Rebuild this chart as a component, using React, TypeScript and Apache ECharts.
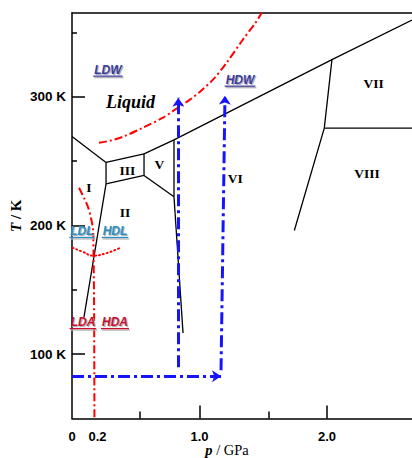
import { useEffect, useRef } from 'react';
import * as echarts from 'echarts';

// ---- axes ----
const X_MIN = 0;
const X_MAX = 2.667;
const Y_MIN = 50;
const Y_MAX = 365;

const xMajorTicks = [1.0, 2.0];
const xMinorTicks = [0.53, 1.54];
const xLabelValues = [0, 0.2, 1.0, 2.0];
const xLabelTexts = ['0', '0.2', '1.0', '2.0'];
const yMajorTicks = [100, 200, 300];
const yMinorTicks = [150, 250, 350];

// ---- phase boundaries [p / GPa, T / K] ----
const ihMelting = [[0, 269.1], [0.267, 248.9]];
const iceIIIRegion = [[0.267, 248.9], [0.565, 255.6], [0.565, 238.8], [0.267, 232.3], [0.267, 248.9]];
const highPressureMelting = [[0.565, 255.6], [0.8, 266.5], [2.039, 328.8], [2.667, 359.5]];
const vViBoundary = [[0.8, 266.5], [0.8, 222.2]];
const vIIBoundary = [[0.565, 238.8], [0.8, 222.2]];
const iiViBoundary = [[0.8, 222.2], [0.871, 116.3]];
const iIIBoundary = [[0.267, 232.3], [0.094, 128.8]];
const viiViiiBoundary = [[2.039, 328.8], [1.979, 275.6], [1.744, 196]];
const viiViiiHorizontal = [[1.979, 275.6], [2.667, 275.6]];

// ---- red metastable lines ----
const ldwHdwLine = [
  [0.212, 264.2], [0.298, 265.8], [0.4, 268.9], [0.557, 275.9], [0.714, 283.7],
  [0.808, 289.9], [0.925, 297.7], [1.004, 303.9], [1.106, 313.2], [1.208, 325.7],
  [1.341, 344.4], [1.435, 356.8], [1.49, 365.4],
];
const ldaHdaLine = [
  [0.055, 229.2], [0.094, 221.4], [0.125, 214.4], [0.149, 205.8], [0.165, 196.5],
  [0.169, 177], [0.173, 142], [0.176, 50],
];
const ldlHdlArc = [[0.005, 182.7], [0.086, 179.4], [0.167, 176.5], [0.275, 178.6], [0.371, 182.3]];

// ---- blue compression paths ----
const pathLow = [[0.834, 89.9], [0.834, 299.2]];
const pathBottom = [[0, 82.9], [1.169, 82.9]];
const pathHigh = [[1.169, 87.5], [1.2, 300.8]];

// ---- annotations ----
const phaseNames = [
  { text: 'III', p: 0.434, T: 242.6 },
  { text: 'V', p: 0.685, T: 247.1 },
  { text: 'I', p: 0.133, T: 229.4 },
  { text: 'II', p: 0.416, T: 210.3 },
  { text: 'VI', p: 1.281, T: 236.7 },
  { text: 'VII', p: 2.366, T: 310.1 },
  { text: 'VIII', p: 2.314, T: 240.1 },
];
const liquidLabel = { text: 'Liquid', p: 0.459, T: 295.7 };
const tagLabels = [
  { text: 'LDW', p: 0.282, T: 321.0, color: '#3b3b9e' },
  { text: 'HDW', p: 1.318, T: 313.2, color: '#3b3b9e' },
  { text: 'LDL', p: 0.078, T: 195.7, color: '#2b8fc6' },
  { text: 'HDL', p: 0.337, T: 195.7, color: '#2b8fc6' },
  { text: 'LDA', p: 0.086, T: 124.9, color: '#c8102e' },
  { text: 'HDA', p: 0.337, T: 124.9, color: '#c8102e' },
];

const SANS = '"Liberation Sans", Arial, sans-serif';
const SERIF = '"Liberation Serif", "Times New Roman", serif';

const blackLines = [
  ihMelting, iceIIIRegion, highPressureMelting, vViBoundary, vIIBoundary,
  iiViBoundary, iIIBoundary, viiViiiBoundary, viiViiiHorizontal,
];

function measure(text: string, font: string) {
  const c = document.createElement('canvas').getContext('2d');
  if (!c) return text.length * 9;
  c.font = font;
  return c.measureText(text).width;
}

export default function App() {
  const ref = useRef<HTMLDivElement>(null);
  useEffect(() => {
    if (!ref.current) return;
    const chart = echarts.init(ref.current, null, { renderer: 'svg' });
    const axisLine = { show: true, lineStyle: { color: '#000', width: 1.5 } };
    const option: any = {
      animation: false,
      backgroundColor: '#fff',
      textStyle: { fontFamily: SANS },
      grid: { left: 72, top: 13, right: 0, bottom: 39.5, containLabel: false, outerBoundsMode: 'none' },
      xAxis: [
        {
          type: 'value', min: X_MIN, max: X_MAX, position: 'bottom',
          axisLine,
          axisTick: { show: true, inside: true, length: 13, customValues: xMajorTicks, lineStyle: { color: '#000', width: 1.5 } },
          axisLabel: {
            show: true, customValues: xLabelValues, margin: 11,
            color: '#000', fontSize: 13, fontWeight: 'bold', fontFamily: SANS,
            formatter: (v: number) => {
              const i = xLabelValues.findIndex((x) => Math.abs(x - v) < 1e-6);
              return i >= 0 ? xLabelTexts[i] : '';
            },
          },
          splitLine: { show: false },
          name: '{i|p} / GPa',
          nameLocation: 'middle',
          nameMoveOverlap: false,
          nameGap: 24,
          nameTextStyle: {
            color: '#000', fontFamily: SERIF, fontSize: 14.5, padding: [0, 30, 0, 0],
            rich: { i: { fontStyle: 'italic', fontWeight: 'bold', fontFamily: SERIF, fontSize: 14.5, color: '#000' } },
          },
        },
        {
          type: 'value', min: X_MIN, max: X_MAX, position: 'bottom',
          axisLine: { show: false },
          axisTick: { show: true, inside: true, length: 7, customValues: xMinorTicks, lineStyle: { color: '#000', width: 1.5 } },
          axisLabel: { show: false },
          splitLine: { show: false },
        },
        {
          type: 'value', min: X_MIN, max: X_MAX, position: 'top',
          axisLine,
          axisTick: { show: false },
          axisLabel: { show: false },
          splitLine: { show: false },
        },
      ],
      yAxis: [
        {
          type: 'value', min: Y_MIN, max: Y_MAX, position: 'left',
          axisLine,
          axisTick: { show: true, inside: true, length: 13, customValues: yMajorTicks, lineStyle: { color: '#000', width: 1.5 } },
          axisLabel: {
            show: true, customValues: yMajorTicks, margin: 6,
            color: '#000', fontSize: 13.5, fontWeight: 'bold', fontFamily: SANS,
            formatter: (v: number) => `${v} K`,
          },
          splitLine: { show: false },
          name: '{i|T} / K',
          nameLocation: 'middle',
          nameMoveOverlap: false,
          nameGap: 49,
          nameRotate: 90,
          nameTextStyle: {
            color: '#000', fontFamily: SERIF, fontSize: 15, fontWeight: 'bold',
            rich: { i: { fontStyle: 'italic', fontWeight: 'bold', fontFamily: SERIF, fontSize: 15, color: '#000' } },
          },
        },
        {
          type: 'value', min: Y_MIN, max: Y_MAX, position: 'left',
          axisLine: { show: false },
          axisTick: { show: true, inside: true, length: 5, customValues: yMinorTicks, lineStyle: { color: '#000', width: 1.5 } },
          axisLabel: { show: false },
          splitLine: { show: false },
        },
      ],
      series: [
        ...blackLines.map((d) => ({
          type: 'line', data: d, symbol: 'none', silent: true, z: 3,
          lineStyle: { color: '#000', width: 1.3 },
        })),
        {
          type: 'line', data: ldwHdwLine, symbol: 'none', smooth: 0.3, silent: true, z: 4,
          lineStyle: { color: '#ff0000', width: 2, type: [8, 3, 2, 3] },
        },
        {
          type: 'line', data: ldaHdaLine, symbol: 'none', smooth: 0.3, silent: true, z: 4,
          lineStyle: { color: '#ff0000', width: 2, type: [8, 3, 2, 3] },
        },
        {
          type: 'line', data: ldlHdlArc, symbol: 'none', smooth: 0.5, silent: true, z: 4,
          lineStyle: { color: '#ff0000', width: 2, type: [1, 3], cap: 'round' },
        },
        {
          type: 'lines', coordinateSystem: 'cartesian2d', silent: true, z: 5,
          data: [pathLow, pathBottom, pathHigh].map((c) => ({ coords: c })),
          symbol: ['none', 'arrow'],
          symbolSize: 9,
          lineStyle: { color: '#1414ff', width: 3, opacity: 1, type: [12, 4, 3, 4] },
        },
      ],
    };
    chart.setOption(option);

    const toPx = (p: number, T: number) => chart.convertToPixel({ gridIndex: 0 } as any, [p, T]) as number[];
    const graphics: any[] = [];
    const textEl = (x: number, y: number, text: string, fill: string, fontFamily: string, fontSize: number, fontStyle: string, fontWeight: string, z: number) => ({
      type: 'text', x, y, z, silent: true,
      style: {
        text, fill, fontFamily, fontSize, fontStyle, fontWeight,
        align: 'center', verticalAlign: 'middle', textAlign: 'center', textVerticalAlign: 'middle',
      },
    });
    phaseNames.forEach((l) => {
      const [x, y] = toPx(l.p, l.T);
      graphics.push(textEl(x, y, l.text, '#000', SERIF, 13.5, 'normal', 'bold', 20));
    });
    {
      const [x, y] = toPx(liquidLabel.p, liquidLabel.T);
      graphics.push(textEl(x, y, liquidLabel.text, '#000', SERIF, 18, 'italic', 'bold', 20));
    }
    const tagFont = `italic bold 12px ${SANS}`;
    tagLabels.forEach((l) => {
      const [x, y] = toPx(l.p, l.T);
      const w = measure(l.text, tagFont) + 2;
      graphics.push(textEl(x + 1.2, y + 1.2, l.text, '#b4b4b4', SANS, 12, 'italic', 'bold', 19));
      graphics.push(textEl(x, y, l.text, l.color, SANS, 12, 'italic', 'bold', 21));
      graphics.push({
        type: 'line', z: 19, silent: true,
        shape: { x1: x - w / 2 + 1, y1: y + 8, x2: x + w / 2 + 1, y2: y + 8 },
        style: { stroke: '#b4b4b4', lineWidth: 1.3 },
      });
      graphics.push({
        type: 'line', z: 21, silent: true,
        shape: { x1: x - w / 2, y1: y + 6.5, x2: x + w / 2, y2: y + 6.5 },
        style: { stroke: l.color, lineWidth: 1.3 },
      });
    });
    chart.setOption({ graphic: graphics });

    return () => chart.dispose();
  }, []);
  return <div ref={ref} style={{ position: 'fixed', left: 0, top: 0, width: 412, height: 458 }} />;
}
